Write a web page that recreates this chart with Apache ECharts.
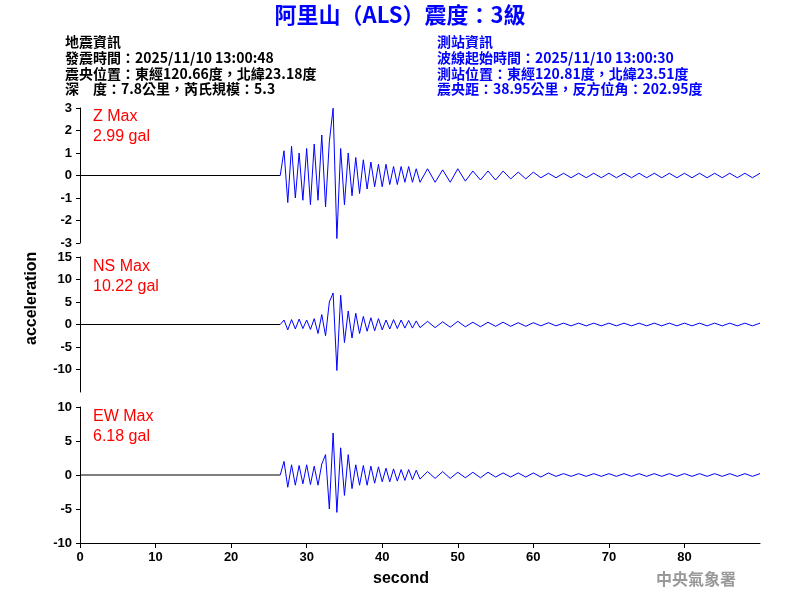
<!DOCTYPE html>
<html>
<head>
<meta charset="utf-8">
<script src="https://cdn.jsdelivr.net/npm/echarts@6/dist/echarts.min.js"></script>
<style>body{margin:0}#chart{width:800px;height:600px}</style>
</head>
<body>
<div id="chart"></div>
<script>
// 時間軸（秒）
var times = [26.5,27,27.5,28,28.5,29,29.5,30,30.5,31,31.5,32,32.5,33,33.5,34,34.5,35,35.5,36,36.5,37,37.5,38,38.5,39,39.5,40,40.5,41,41.5,42,42.5,43,43.5,44,44.5,45,
    46,47,48,49,50,51,52,53,54,55,56,57,58,59,60,61,62,63,64,65,66,67,68,69,70,71,72,73,74,75,76,77,78,79,80,81,82,83,84,85,86,87,88,89,90];
// Z 分量
var zValues = [0,1.1,-1.2,1.3,-1.0,1.0,-1.1,1.2,-1.3,1.4,-1.1,1.8,-1.4,1.5,2.99,-2.8,1.2,-1.3,1.0,-0.9,0.8,-0.8,0.7,-0.6,0.6,-0.5,0.5,-0.5,0.5,-0.4,0.4,-0.4,0.4,-0.3,0.4,-0.3,0.3,-0.3,
    0.3,-0.3,0.25,-0.3,0.3,-0.25,0.2,-0.2,0.2,-0.2,0.2,-0.15,0.15,-0.15,0.15,-0.1,0.1,-0.1,0.1,-0.1,0.1,-0.1,0.1,-0.1,0.1,-0.1,0.1,-0.1,0.1,-0.1,0.1,-0.1,0.1,-0.1,0.1,-0.1,0.1,-0.1,0.1,-0.1,0.1,-0.1,0.1,-0.1,0.1,-0.1,0.1];
// NS 分量
var nsValues = [0,1.0,-1.2,1.1,-1.0,1.2,-0.9,1.0,-1.1,1.3,-2.0,2.2,-2.5,5.0,7.0,-10.22,6.5,-4.0,3.0,-3.0,2.5,-2.0,1.8,-1.5,1.5,-1.4,1.3,-1.2,1.0,-1.0,1.1,-0.9,1.0,-0.8,0.9,-0.8,0.8,-0.7,
    0.7,-0.7,0.6,-0.6,0.7,-0.5,0.5,-0.5,0.5,-0.4,0.5,-0.4,0.4,-0.4,0.4,-0.3,0.4,-0.3,0.3,-0.3,0.3,-0.3,0.3,-0.3,0.3,-0.3,0.3,-0.3,0.3,-0.3,0.3,-0.3,0.3,-0.3,0.3,-0.3,0.3,-0.3,0.3,-0.3,0.3,-0.3,0.3,-0.3,0.3,-0.3,0.3];
// EW 分量
var ewValues = [0,2.0,-1.8,1.5,-1.5,1.4,-1.3,1.5,-1.4,1.3,-1.5,1.6,3.0,-5.0,6.18,-5.5,4.0,-3.0,3.0,-2.0,1.5,-1.5,1.4,-1.5,1.3,-1.2,1.2,-1.0,1.0,-1.0,0.9,-0.9,0.8,-0.8,0.8,-0.7,0.7,-0.6,
    0.5,-0.5,0.5,-0.5,0.4,-0.4,0.4,-0.4,0.4,-0.3,0.3,-0.3,0.3,-0.3,0.3,-0.3,0.3,-0.2,0.2,-0.2,0.2,-0.2,0.2,-0.2,0.2,-0.2,0.2,-0.2,0.2,-0.2,0.2,-0.2,0.2,-0.2,0.2,-0.2,0.2,-0.2,0.2,-0.2,0.2,-0.2,0.2,-0.2,0.2,-0.2,0.2];
var zRange = [-3, 3, 1];
var nsRange = [-15, 15, 5];
var ewRange = [-10, 10, 5];

var chart = echarts.init(document.getElementById("chart"));

function pairs(vals) {
    return times.map(function (t, i) { return [t, vals[i]]; });
}

var font = "Arial, 'Liberation Sans', sans-serif";
var cjk = "'Noto Sans CJK TC', sans-serif";
var grids = [
    { left: 80, right: 40, top: 108, height: 135 },
    { left: 80, right: 40, top: 257, height: 135 },
    { left: 80, right: 40, top: 407, height: 136 }
];

function yAxis(idx, r, hideMin) {
    return {
        type: "value", gridIndex: idx, min: r[0], max: r[1], interval: r[2],
        axisLine: { show: true, lineStyle: { color: "#000" } },
        axisTick: { show: true, length: 4, lineStyle: { color: "#000" } },
        axisLabel: { color: "#000", fontFamily: font, fontWeight: "bold", fontSize: 13, showMinLabel: !hideMin },
        splitLine: { show: false }
    };
}
function xAxis(idx, show) {
    return {
        type: "value", gridIndex: idx, min: 0, max: 90, interval: 10,
        axisLine: { show: show, onZero: false, lineStyle: { color: "#000" } },
        axisTick: { show: show, length: 5, lineStyle: { color: "#000" } },
        axisLabel: { show: show, color: "#000", fontFamily: font, fontWeight: "bold", fontSize: 13, showMaxLabel: false },
        splitLine: { show: false }
    };
}
function trace(idx, vals) {
    return [
        { type: "line", xAxisIndex: idx, yAxisIndex: idx, data: [[0, 0], [26.5, 0]], showSymbol: false, lineStyle: { color: "#000", width: 1 }, silent: true },
        { type: "line", xAxisIndex: idx, yAxisIndex: idx, data: pairs(vals), showSymbol: false, lineStyle: { color: "#0000ff", width: 1 }, silent: true }
    ];
}

function txt(x, y, s, color, size, fam, weight, align) {
    return { type: "text", left: x, top: y, style: { text: s, fill: color, font: (weight || "normal") + " " + size + "px " + fam, textAlign: align || "left" } };
}

var option = {
    animation: false,
    backgroundColor: "#fff",
    grid: grids,
    xAxis: [xAxis(0, false), xAxis(1, false), xAxis(2, true)],
    yAxis: [yAxis(0, zRange), yAxis(1, nsRange, true), yAxis(2, ewRange)],
    series: trace(0, zValues).concat(trace(1, nsValues)).concat(trace(2, ewValues)),
    graphic: [
        { type: "text", left: "center", top: 4, style: { text: "阿里山（ALS）震度：3級", fill: "#0000ff", font: "bold 22px " + cjk } },
        txt(65, 35, "地震資訊", "#000", 14, cjk, "bold"),
        txt(65, 51, "發震時間：2025/11/10 13:00:48", "#000", 14, cjk, "bold"),
        txt(65, 67, "震央位置：東經120.66度，北緯23.18度", "#000", 14, cjk, "bold"),
        txt(65, 82, "深　度：7.8公里，芮氏規模：5.3", "#000", 14, cjk, "bold"),
        txt(437, 35, "測站資訊", "#0000ff", 14, cjk, "bold"),
        txt(437, 51, "波線起始時間：2025/11/10 13:00:30", "#0000ff", 14, cjk, "bold"),
        txt(437, 67, "測站位置：東經120.81度，北緯23.51度", "#0000ff", 14, cjk, "bold"),
        txt(437, 82, "震央距：38.95公里，反方位角：202.95度", "#0000ff", 14, cjk, "bold"),
        txt(93, 109, "Z Max", "#ff0000", 16, font),
        txt(93, 129, "2.99 gal", "#ff0000", 16, font),
        txt(93, 259, "NS Max", "#ff0000", 16, font),
        txt(93, 279, "10.22 gal", "#ff0000", 16, font),
        txt(93, 409, "EW Max", "#ff0000", 16, font),
        txt(93, 429, "6.18 gal", "#ff0000", 16, font),
        txt(373, 571, "second", "#000", 16, font, "bold"),
        { type: "text", x: 24, y: 345, rotation: Math.PI / 2, style: { text: "acceleration", fill: "#000", font: "bold 16px " + font } },
        txt(656, 571, "中央氣象署", "#999", 16, cjk, "bold")
    ]
};
chart.setOption(option);
</script>
</body>
</html>
